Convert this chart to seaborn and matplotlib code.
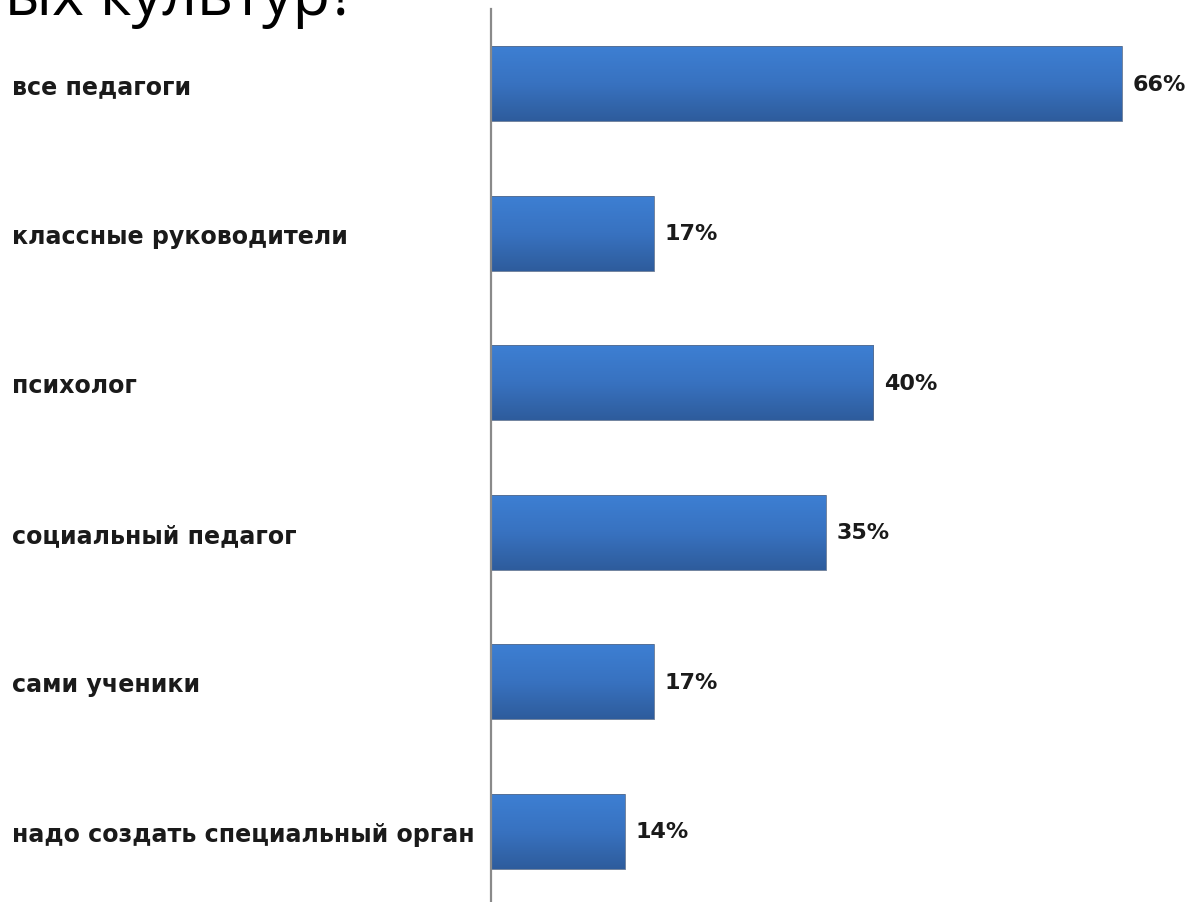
import numpy as np
import pandas as pd
import matplotlib
matplotlib.use("Agg")
import matplotlib.pyplot as plt
import seaborn as sns

categories = [
    "все педагоги",
    "классные руководители",
    "психолог",
    "социальный педагог",
    "сами ученики",
    "надо создать специальный орган",
]
values = [66, 17, 40, 35, 17, 14]
title_tail = "ых культур?"

df = pd.DataFrame({"category": categories, "value": values})

sns.set_theme(style="white")
plt.rcParams["font.family"] = ["DejaVu Sans"]

W, H, DPI = 1190, 903, 100
fig = plt.figure(figsize=(W / DPI, H / DPI), dpi=DPI)

# axes placed in pixel terms
ax_left, ax_right = 491, 1190
ax_top, ax_bottom = 10, 907
ax = fig.add_axes([ax_left / W, 1 - ax_bottom / H,
                   (ax_right - ax_left) / W, (ax_bottom - ax_top) / H])

sns.barplot(data=df, x="value", y="category", ax=ax, color="#3670BE",
            width=0.5, orient="h", edgecolor="#5a6f8f", linewidth=0.6)

px_per_unit = 9.56
xmax = (ax_right - ax_left) / px_per_unit

# vertical gradient fill on each bar
grad = np.linspace(0, 1, 256).reshape(-1, 1)
cmap = matplotlib.colors.LinearSegmentedColormap.from_list(
    "barfill", ["#3D7FD3", "#3872C0", "#2E5C9C"])
for patch in ax.patches:
    x0, y0 = patch.get_x(), patch.get_y()
    w, h = patch.get_width(), patch.get_height()
    im = ax.imshow(grad, extent=[x0, x0 + w, y0 + h, y0], cmap=cmap,
                   aspect="auto", origin="upper", zorder=patch.get_zorder() + 0.1,
                   interpolation="bicubic")
    im.set_clip_path(patch)
    patch.set_facecolor("none")
    patch.set_zorder(patch.get_zorder() + 0.2)
ax.set_xlim(0, xmax)
ax.set_ylim(len(categories) - 0.5, -0.5)

# value labels
for i, v in enumerate(values):
    ax.text(v + 1.15, i, f"{v}%", va="center", ha="left",
            fontsize=16, fontweight="bold", color="#1a1a1a")

ax.set_xlabel("")
ax.set_ylabel("")
ax.set_xticks([])
ax.tick_params(axis="y", length=0, pad=(ax_left - 12) * 72 / DPI)
for lab in ax.get_yticklabels():
    lab.set_ha("left")
    lab.set_fontsize(17.1)
    lab.set_fontweight("bold")
    lab.set_color("#1a1a1a")

for s in ["top", "right", "bottom"]:
    ax.spines[s].set_visible(False)
ax.spines["left"].set_color("#8a8a8a")
ax.spines["left"].set_linewidth(1.6)

# tail of the heading, cut by the top edge
fig.text(5 / W, 1 - 15 / H, title_tail, fontsize=44, color="black",
         ha="left", va="baseline", family=["Open Sans", "DejaVu Sans"])

fig.savefig("out.png", dpi=DPI)
